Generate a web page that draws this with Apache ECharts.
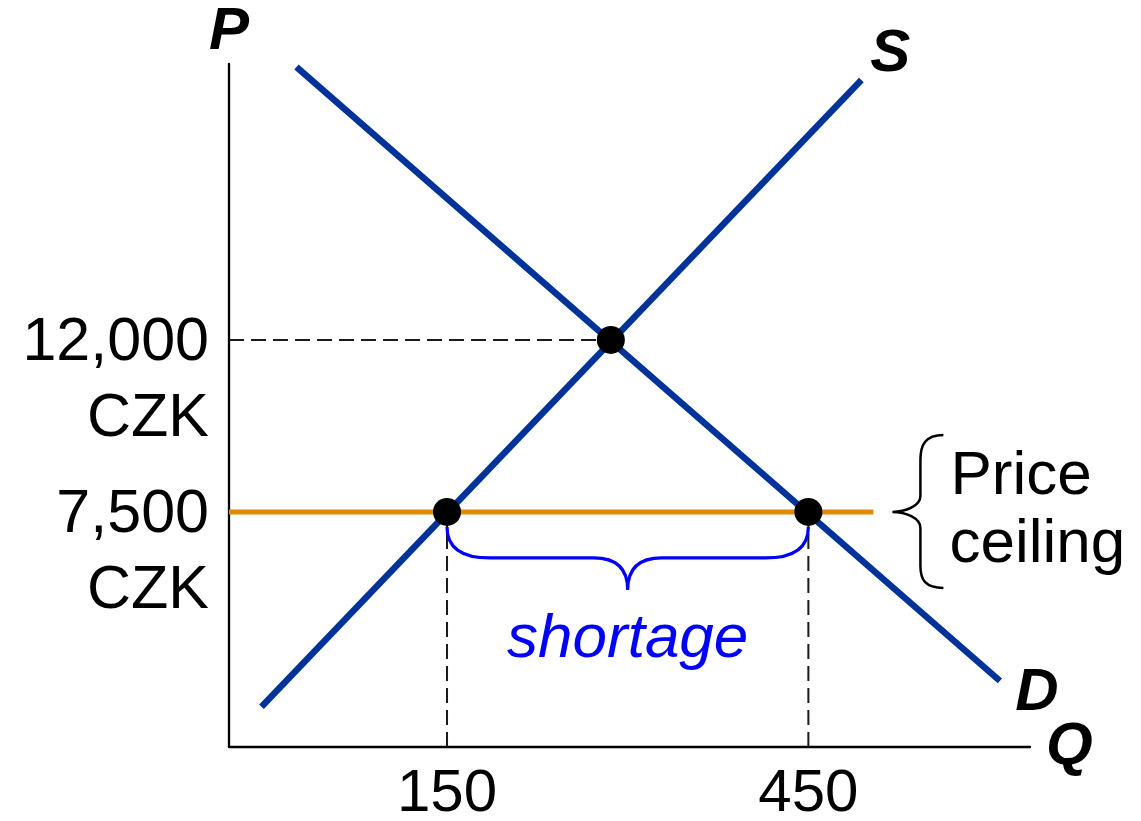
<!DOCTYPE html>
<html>
<head>
<meta charset="utf-8">
<script src="https://cdn.jsdelivr.net/npm/echarts@6/dist/echarts.min.js"></script>
<style>
html,body{margin:0;padding:0;background:#fff;}
#chart{width:1141px;height:821px;}
</style>
</head>
<body>
<div id="chart"></div>
<script>
// ---- data ----
const quantityTicks = [150, 450];
const priceTicks = [7500, 12000];
const priceTickLabels = ['7,500', '12,000'];
const priceUnit = 'CZK';
const supplyCurve = [[-4, 2400], [494, 18800]];
const demandCurve = [[25, 19140], [609, 3080]];
const equilibriumPoint = [286, 12000];
const ceilingPrice = 7500;
const ceilingEndQ = 504;
const quantitySupplied = 150;
const quantityDemanded = 450;
const axisQ = [-31, 634];
const axisP = [1350, 19220];

// ---- styles ----
const FONT = "'Liberation Sans', Arial, Helvetica, sans-serif";
const BLUE = '#003399';
const ORANGE = '#e08a00';
const dash = { color: '#1a1a1a', width: 2, type: [15, 7] };

function shortageBrace(params, api) {
  const a = api.coord([api.value(0), api.value(1)]);
  const b = api.coord([api.value(2), api.value(1)]);
  const x1 = a[0], x2 = b[0], y = a[1], xm = (x1 + x2) / 2;
  const y0 = y + 15, yh = y + 46, yt = y + 78;
  const d = `M${x1} ${y0} Q${x1} ${yh} ${x1 + 43} ${yh} L${xm - 34} ${yh} Q${xm} ${yh} ${xm} ${yt} ` +
            `Q${xm} ${yh} ${xm + 34} ${yh} L${x2 - 43} ${yh} Q${x2} ${yh} ${x2} ${y0}`;
  return {
    type: 'group',
    children: [
      { type: 'path', shape: { pathData: d }, style: { stroke: '#0000ff', lineWidth: 3.2, fill: 'none' } },
      { type: 'text', x: xm, y: y + 128,
        style: { text: 'shortage', fill: '#0000ff', fontSize: 62, fontStyle: 'italic', fontFamily: FONT, align: 'center', verticalAlign: 'middle' } }
    ]
  };
}

function ceilingBrace(params, api) {
  const p = api.coord([api.value(0), api.value(1)]);
  const x = p[0] + 19, y = p[1];
  const d = `M${x + 51} ${y - 77} C${x + 33} ${y - 77} ${x + 28} ${y - 67} ${x + 28} ${y - 52} L${x + 28} ${y - 16} ` +
            `C${x + 28} ${y - 6} ${x + 13} ${y} ${x} ${y} C${x + 13} ${y} ${x + 28} ${y + 6} ${x + 28} ${y + 16} ` +
            `L${x + 28} ${y + 54} C${x + 28} ${y + 68} ${x + 33} ${y + 76} ${x + 51} ${y + 76}`;
  return {
    type: 'group',
    children: [
      { type: 'path', shape: { pathData: d }, style: { stroke: '#000', lineWidth: 2.5, fill: 'none' } },
      { type: 'text', x: p[0] + 77, y: y - 35,
        style: { text: 'Price', fill: '#000', fontSize: 62, fontFamily: FONT, align: 'left', verticalAlign: 'middle' } },
      { type: 'text', x: p[0] + 76, y: y + 33,
        style: { text: 'ceiling', fill: '#000', fontSize: 62, fontFamily: FONT, align: 'left', verticalAlign: 'middle' } }
    ]
  };
}

function priceLabel(params, api) {
  const p = api.coord([api.value(0), api.value(1)]);
  const base = { fill: '#000', fontSize: 61, fontFamily: FONT, align: 'right', verticalAlign: 'middle' };
  return {
    type: 'group',
    children: [
      { type: 'text', x: p[0] - 20, y: p[1] + 3, style: Object.assign({ text: priceTickLabels[api.value(2)] }, base) },
      { type: 'text', x: p[0] - 20, y: p[1] + 79, style: Object.assign({ text: priceUnit }, base) }
    ]
  };
}

function curveLabel(text, dx, dy) {
  return function (params, api) {
    const p = api.coord([api.value(0), api.value(1)]);
    return { type: 'text', x: p[0] + dx, y: p[1] + dy,
      style: { text: text, fill: '#000', fontSize: 60, fontWeight: 'bold', fontStyle: 'italic', fontFamily: FONT, align: 'center', verticalAlign: 'middle' } };
  };
}

const chart = echarts.init(document.getElementById('chart'), null, { renderer: 'canvas' });
chart.setOption({
  animation: false,
  backgroundColor: '#fff',
  grid: { left: 229, right: 111, top: 64, bottom: 74, containLabel: false, outerBoundsMode: 'none' },
  xAxis: {
    type: 'value', min: axisQ[0], max: axisQ[1],
    name: 'Q', nameLocation: 'end', nameGap: 16,
    nameTextStyle: { fontSize: 60, fontWeight: 'bold', fontStyle: 'italic', color: '#000', fontFamily: FONT },
    axisLine: { show: true, onZero: false, lineStyle: { color: '#000', width: 2.3 } },
    axisTick: { show: false },
    splitLine: { show: false },
    axisLabel: { customValues: quantityTicks, fontSize: 60, color: '#000', fontFamily: FONT, margin: 17 }
  },
  yAxis: {
    type: 'value', min: axisP[0], max: axisP[1],
    name: 'P', nameLocation: 'end', nameGap: 2,
    nameTextStyle: { fontSize: 60, fontWeight: 'bold', fontStyle: 'italic', color: '#000', fontFamily: FONT },
    axisLine: { show: true, onZero: false, lineStyle: { color: '#000', width: 2.3 } },
    axisTick: { show: false },
    splitLine: { show: false },
    axisLabel: { show: false }
  },
  series: [
    { type: 'line', data: [[axisQ[0], equilibriumPoint[1]], equilibriumPoint], symbol: 'none', lineStyle: dash, silent: true, z: 1 },
    { type: 'line', data: [[quantitySupplied, ceilingPrice], [quantitySupplied, axisP[0]]], symbol: 'none', lineStyle: dash, silent: true, z: 1 },
    { type: 'line', data: [[quantityDemanded, ceilingPrice], [quantityDemanded, axisP[0]]], symbol: 'none', lineStyle: dash, silent: true, z: 1 },
    { type: 'line', name: 'S', data: supplyCurve, symbol: 'none', lineStyle: { color: BLUE, width: 6.5 }, silent: true, z: 3 },
    { type: 'line', name: 'D', data: demandCurve, symbol: 'none', lineStyle: { color: BLUE, width: 6.5 }, silent: true, z: 3 },
    { type: 'line', name: 'ceiling', data: [[axisQ[0], ceilingPrice], [ceilingEndQ, ceilingPrice]], symbol: 'none', lineStyle: { color: ORANGE, width: 5 }, silent: true, z: 4 },
    { type: 'scatter', data: [[quantitySupplied, ceilingPrice], [quantityDemanded, ceilingPrice], equilibriumPoint], symbolSize: 28, itemStyle: { color: '#000', opacity: 1 }, silent: true, z: 5 },
    { type: 'custom', data: priceTicks.map((p, i) => [axisQ[0], p, i]), encode: { x: 0, y: 1 }, renderItem: priceLabel, clip: false, silent: true, z: 6 },
    { type: 'custom', data: [[quantitySupplied, ceilingPrice, quantityDemanded]], encode: { x: 0, y: 1 }, renderItem: shortageBrace, clip: false, silent: true, z: 6 },
    { type: 'custom', data: [[ceilingEndQ, ceilingPrice]], encode: { x: 0, y: 1 }, renderItem: ceilingBrace, clip: false, silent: true, z: 6 },
    { type: 'custom', data: [supplyCurve[supplyCurve.length - 1]], encode: { x: 0, y: 1 }, renderItem: curveLabel('S', 29, -26), clip: false, silent: true, z: 6 },
    { type: 'custom', data: [demandCurve[demandCurve.length - 1]], encode: { x: 0, y: 1 }, renderItem: curveLabel('D', 37, 13), clip: false, silent: true, z: 6 }
  ]
});
</script>
</body>
</html>
